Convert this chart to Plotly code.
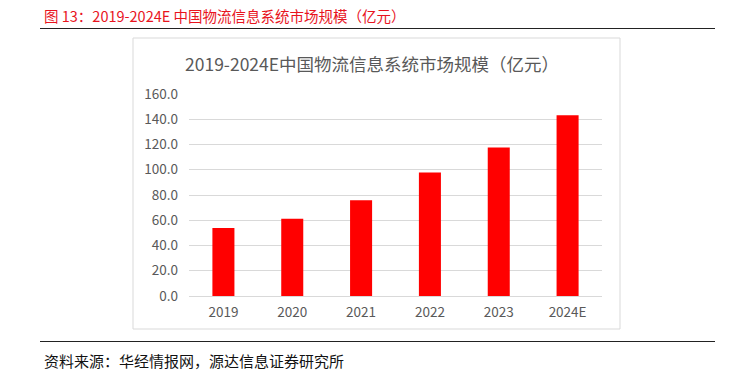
import plotly.graph_objects as go

categories = ["2019", "2020", "2021", "2022", "2023", "2024E"]
values = [53.8, 61.2, 75.9, 97.9, 117.7, 143.1]
y_ticks = [0, 20, 40, 60, 80, 100, 120, 140, 160]
y_tick_labels = ["0.0", "20.0", "40.0", "60.0", "80.0", "100.0", "120.0", "140.0", "160.0"]

W, H = 737, 375
FONT = "Noto Sans CJK SC"

def px(x):
    return x / W

def py(y):
    return 1 - y / H

fig = go.Figure()
fig.add_trace(go.Bar(x=categories, y=values, marker=dict(color="#FF0000", line=dict(width=0)),
                     width=0.32, hoverinfo="skip"))

fig.update_layout(
    width=W, height=H,
    margin=dict(l=0, r=0, t=0, b=0),
    paper_bgcolor="white", plot_bgcolor="white",
    showlegend=False,
    font=dict(family=FONT, color="#595959", size=13),
    xaxis=dict(domain=[px(189), px(602)], showgrid=False, showline=False, zeroline=False,
               ticks="", tickfont=dict(size=13.5, color="#595959"), automargin=False,
               ticklabelstandoff=6),
    yaxis=dict(domain=[py(296), py(94)], range=[0, 160], tickvals=y_ticks, ticktext=y_tick_labels,
               showgrid=True, gridcolor="#D9D9D9", gridwidth=1, zeroline=True,
               zerolinecolor="#D9D9D9", zerolinewidth=1, showline=False, ticks="",
               tickfont=dict(size=13.5, color="#595959"), automargin=False, ticklabelstandoff=10),
    shapes=[
        dict(type="rect", xref="paper", yref="paper", x0=px(133), x1=px(620), y0=py(329), y1=py(38),
             line=dict(color="#D9D9D9", width=1), fillcolor="rgba(0,0,0,0)", layer="below"),
        dict(type="line", xref="paper", yref="paper", x0=px(40), x1=px(715), y0=py(28.5), y1=py(28.5),
             line=dict(color="#222222", width=1.2)),
        dict(type="line", xref="paper", yref="paper", x0=px(40), x1=px(715), y0=py(341.5), y1=py(341.5),
             line=dict(color="#222222", width=1.2)),
    ],
    annotations=[
        dict(text="图 13：2019-2024E 中国物流信息系统市场规模（亿元）", xref="paper", yref="paper",
             x=px(42), y=py(15), xanchor="left", yanchor="middle", showarrow=False,
             font=dict(family=FONT, size=14.5, color="#E8141E")),
        dict(text="2019-2024E中国物流信息系统市场规模（亿元）", xref="paper", yref="paper",
             x=px(372), y=py(63), xanchor="center", yanchor="middle", showarrow=False,
             font=dict(family=FONT, size=17.5, color="#595959")),
        dict(text="资料来源：华经情报网，源达信息证券研究所", xref="paper", yref="paper",
             x=px(42), y=py(360), xanchor="left", yanchor="middle", showarrow=False,
             font=dict(family=FONT, size=15, color="#111111")),
    ],
)

fig.write_html("out.html", config={"displayModeBar": False},
               post_script="document.body.style.margin='0';")
